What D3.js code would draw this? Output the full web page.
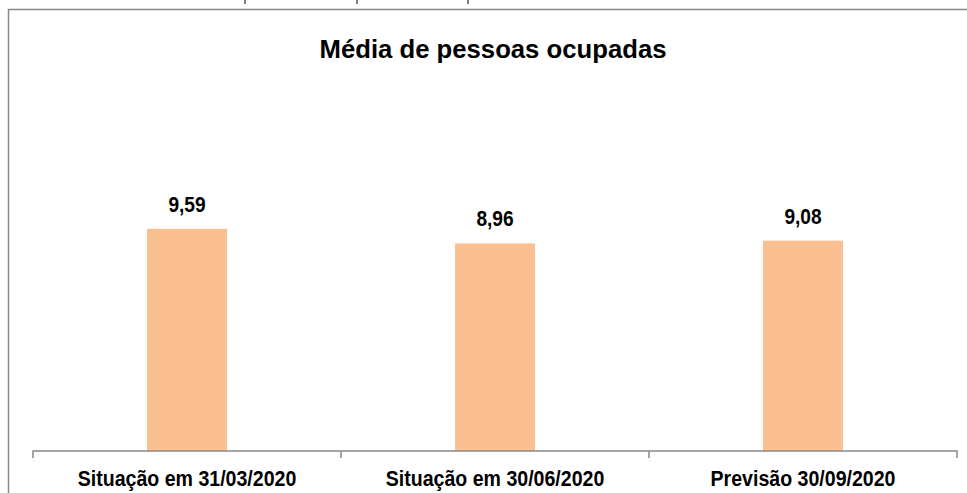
<!DOCTYPE html>
<html><head><meta charset="utf-8">
<script src="https://cdn.jsdelivr.net/npm/d3@7"></script>
<style>body{margin:0;background:#fff;} svg{display:block;}</style>
</head><body>
<script>
const categories = ["Situação em 31/03/2020", "Situação em 30/06/2020", "Previsão 30/09/2020"];
const values = [9.59, 8.96, 9.08];
const valueLabels = ["9,59", "8,96", "9,08"];
const title = "Média de pessoas ocupadas";

const W = 967, H = 493;
const font = "'Liberation Sans', Arial, sans-serif";
const svg = d3.select("body").append("svg").attr("width", W).attr("height", H);

// fragments of table above
[245, 357, 468].forEach(x => svg.append("line").attr("x1", x).attr("x2", x).attr("y1", 0).attr("y2", 4).attr("stroke", "#000").attr("stroke-width", 1));

// outer border
svg.append("rect").attr("x", 8.5).attr("y", 9.5).attr("width", W + 10).attr("height", H + 10)
  .attr("fill", "none").attr("stroke", "#888").attr("stroke-width", 1.5);

const x = d3.scaleBand().domain(categories).range([33, 957]).paddingInner(0).paddingOuter(0);
const y = d3.scaleLinear().domain([0, 12]).range([451, 173]);
const barW = 80;

svg.append("text").attr("transform", "translate(493,57.5) scale(0.97,1)").attr("text-anchor", "middle")
  .attr("font-family", font).attr("font-weight", "bold").attr("font-size", 26.5).attr("fill", "#000").text(title);

svg.selectAll(".bar").data(values).enter().append("rect")
  .attr("x", (d, i) => x(categories[i]) + x.bandwidth() / 2 - barW / 2)
  .attr("y", d => y(d)).attr("width", barW).attr("height", d => y(0) - y(d))
  .attr("fill", "#FAC090");

svg.selectAll(".lbl").data(values).enter().append("text")
  .attr("transform", (d, i) => `translate(${x(categories[i]) + x.bandwidth() / 2},${y(d) - 17}) scale(0.87,1)`)
  .attr("text-anchor", "middle")
  .attr("font-family", font).attr("font-weight", "bold").attr("font-size", 22).attr("fill", "#000")
  .text((d, i) => valueLabels[i]);

const axis = d3.axisBottom(x).tickSize(0).tickFormat(d => d);
const g = svg.append("g").attr("transform", "translate(0,451)").call(axis);
g.select(".domain").attr("stroke", "#888").attr("stroke-width", 1.5).attr("d", "M33,7V0H957V7");
g.selectAll(".tick text").attr("font-family", font).attr("font-weight", "bold").attr("font-size", 22).attr("fill", "#000")
  .attr("dy", null).attr("y", null).attr("transform", "translate(0,35) scale(0.89,1)");
const tickX = [0,1,2,3].map(i => 33 + i * x.step());
g.selectAll(".sep").data(tickX.slice(1, 3)).enter().append("line")
  .attr("x1", d => d).attr("x2", d => d).attr("y1", 0).attr("y2", 7).attr("stroke", "#888").attr("stroke-width", 1.5);
</script>
</body></html>
